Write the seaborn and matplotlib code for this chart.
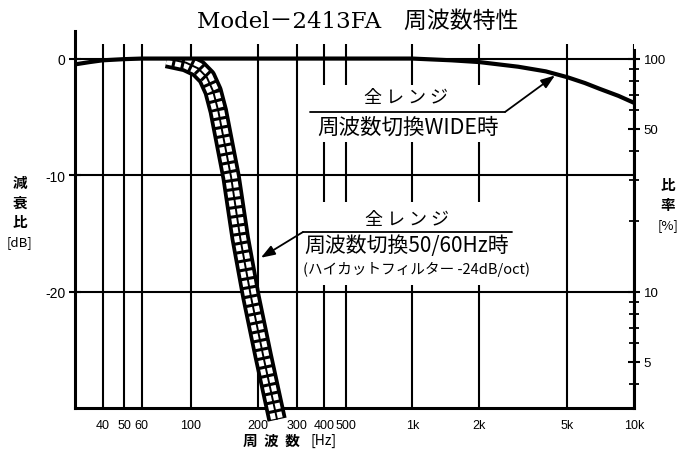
import numpy as np
import matplotlib
matplotlib.use("Agg")
import matplotlib.pyplot as plt
import seaborn as sns
from matplotlib import font_manager
from matplotlib.patches import Rectangle
from matplotlib.lines import Line2D
from matplotlib.ticker import FixedLocator, FixedFormatter, NullFormatter

# ---------------- data ----------------
wide_freq = [30, 35, 40, 50, 60, 1000, 1500, 2000, 3000, 4000, 5000, 6000, 7000, 8500, 10000]
wide_db = [-0.5, -0.3, -0.15, -0.05, 0.0, 0.0, -0.15, -0.3, -0.7, -1.1, -1.6, -2.1, -2.6, -3.2, -3.8]

hc_freq = [78, 95, 108, 118, 126, 133, 141, 152, 167, 187, 212, 245]
hc_db = [0.0, -0.35, -0.85, -1.6, -2.8, -4.5, -7.0, -10.2, -15.4, -20.5, -25.5, -31.0]

x_major = [40, 50, 60, 100, 200, 300, 400, 500, 1000, 2000, 5000, 10000]
x_major_labels = ["40", "50", "60", "100", "200", "300", "400", "500", "1k", "2k", "5k", "10k"]
x_minor = [70, 80, 90, 600, 700, 800, 900, 3000, 4000, 6000, 7000, 8000, 9000]
y_major = [0, -10, -20]
y_major_labels = ["0", "-10", "-20"]
pct_major = [100, 50, 10, 5]
pct_minor = [90, 80, 70, 60, 40, 30, 20, 9, 8, 7, 6, 4]

# ---------------- style ----------------
sns.set_theme(style="white")
plt.rcParams["font.family"] = ["DejaVu Sans", "Noto Sans CJK JP"]
plt.rcParams["text.color"] = "black"
plt.rcParams["axes.edgecolor"] = "black"
plt.rcParams["xtick.color"] = "black"
plt.rcParams["ytick.color"] = "black"
plt.rcParams["lines.scale_dashes"] = False

installed = {f.name for f in font_manager.fontManager.ttflist}
if "Liberation Sans Narrow" in installed:
    tick_font = dict(family="Liberation Sans Narrow", size=10.5)
elif "Liberation Sans" in installed:
    tick_font = dict(family="Liberation Sans", size=9)
else:
    tick_font = dict(family="DejaVu Sans", size=8.5)

W, H = 684, 456
fig = plt.figure(figsize=(W / 100, H / 100), dpi=100)
fig.patch.set_facecolor("white")


def fp(x, y):
    return (x / W, 1 - y / H)


L, R, B, T = 75, 634, 409, 45
ax = fig.add_axes([L / W, 1 - B / H, (R - L) / W, (B - T) / H])
ax.set_facecolor("white")
ax.set_xscale("log")
ax.set_xlim(30, 10000)
ax.set_ylim(-30, 1.25)
ax.set_axisbelow(True)

# curves
sns.lineplot(x=wide_freq, y=wide_db, ax=ax, color="black", lw=3.0, zorder=6)

clip = Rectangle((1, -40), 1e6, 40, transform=ax.transData, visible=False)
ax.add_patch(clip)
n0 = len(ax.lines)
sns.lineplot(x=hc_freq, y=hc_db, ax=ax, color="black", lw=14, zorder=3)
sns.lineplot(x=hc_freq, y=hc_db, ax=ax, color="white", lw=8.6, zorder=4)
sns.lineplot(x=hc_freq, y=hc_db, ax=ax, color="black", lw=1.4, zorder=5)
band = ax.lines[n0:]
band[1].set_linestyle((0, (4.3, 2.2)))
for ln in band:
    ln.set_clip_path(clip)
    ln.set_solid_capstyle("butt")
    ln.set_dash_capstyle("butt")

# axes / ticks
ax.xaxis.set_major_locator(FixedLocator(x_major))
ax.xaxis.set_major_formatter(FixedFormatter(x_major_labels))
ax.xaxis.set_minor_locator(FixedLocator(x_minor))
ax.xaxis.set_minor_formatter(NullFormatter())
ax.yaxis.set_major_locator(FixedLocator(y_major))
ax.yaxis.set_major_formatter(FixedFormatter(y_major_labels))
ax.grid(True, which="major", color="black", lw=1.5)
ax.tick_params(axis="x", which="major", direction="inout", length=8, width=1.5, pad=4)
ax.tick_params(axis="x", which="minor", direction="inout", length=7, width=1.3)
ax.tick_params(axis="y", which="major", direction="inout", length=8, width=1.5, pad=3)
for lab in ax.get_xticklabels() + ax.get_yticklabels():
    lab.set_fontfamily(tick_font["family"])
    lab.set_fontsize(tick_font["size"])
for lab in ax.get_yticklabels():
    lab.set_fontsize(tick_font["size"] + 1)
for s in ["top", "right"]:
    ax.spines[s].set_visible(False)
for s in ["left", "bottom"]:
    ax.spines[s].set_linewidth(2.2)
ax.spines["left"].set_bounds(-30, 2.4)
ax.spines["left"].set_clip_on(False)
ax.set_xlabel("")
ax.set_ylabel("")

ax2 = ax.twinx()
ax2.set_ylim(ax.get_ylim())
ax2.yaxis.set_major_locator(FixedLocator([20 * np.log10(p / 100) for p in pct_major]))
ax2.yaxis.set_major_formatter(FixedFormatter([str(p) for p in pct_major]))
ax2.yaxis.set_minor_locator(FixedLocator([20 * np.log10(p / 100) for p in pct_minor]))
ax2.yaxis.set_minor_formatter(NullFormatter())
ax2.tick_params(axis="y", which="major", direction="inout", length=8, width=1.5, pad=3)
ax2.tick_params(axis="y", which="minor", direction="inout", length=7, width=1.3)
for lab in ax2.get_yticklabels():
    lab.set_fontfamily(tick_font["family"])
    lab.set_fontsize(tick_font["size"] + 0.5)
for s in ["top", "left", "bottom"]:
    ax2.spines[s].set_visible(False)
ax2.spines["right"].set_linewidth(2.2)
ax2.spines["right"].set_bounds(-30, 0.7)
ax2.grid(False)

# ---------------- annotations ----------------
cjk = ["Noto Sans CJK JP", "DejaVu Sans"]
for (x0, y0, x1, y1) in [(303, 86, 512, 143), (300, 203, 530, 286)]:
    ax.add_patch(Rectangle(fp(x0, y1), (x1 - x0) / W, (y1 - y0) / H,
                           transform=fig.transFigure, facecolor="white",
                           edgecolor="none", zorder=1))

fig.text(*fp(358, 22), "Model－2413FA　周波数特性", ha="center", va="center",
         fontsize=16.5, family=["DejaVu Serif", "Noto Sans CJK JP"])

fig.text(*fp(406, 98), "全 レ ン ジ", ha="center", va="center", fontsize=13, family=cjk)
fig.text(*fp(408, 128), "周波数切換WIDE時", ha="center", va="center", fontsize=15.5, family=cjk)
fig.add_artist(Line2D([310 / W, 505 / W], [1 - 113 / H, 1 - 113 / H], color="black", lw=1.3))
ax.annotate("", xy=(4400, -1.45), xycoords="data",
            xytext=fp(505, 113), textcoords="figure fraction",
            arrowprops=dict(arrowstyle="-|>,head_length=0.7,head_width=0.25",
                            color="black", lw=1.3, shrinkA=0, shrinkB=0),
            zorder=7)

fig.text(*fp(407, 220), "全 レ ン ジ", ha="center", va="center", fontsize=13, family=cjk)
fig.text(*fp(407, 246), "周波数切換50/60Hz時", ha="center", va="center", fontsize=15, family=cjk)
fig.text(*fp(303, 269), "(ハイカットフィルター -24dB/oct)", ha="left", va="center",
         fontsize=10.5, family=cjk)
fig.add_artist(Line2D([303 / W, 512 / W], [1 - 233 / H, 1 - 233 / H], color="black", lw=1.3))
ax.annotate("", xy=(207, -17.1), xycoords="data",
            xytext=fp(303, 233), textcoords="figure fraction",
            arrowprops=dict(arrowstyle="-|>,head_length=0.7,head_width=0.25",
                            color="black", lw=1.3, shrinkA=0, shrinkB=0),
            zorder=7)

# axis titles
for ch, yy in [("減", 183), ("衰", 203), ("比", 222)]:
    fig.text(*fp(20, yy), ch, ha="center", va="center", fontsize=10.5,
             fontweight="bold", family=cjk)
fig.text(*fp(20, 243), "[dB]", ha="center", va="center", fontsize=9.5, family=cjk)
for ch, yy in [("比", 185), ("率", 205)]:
    fig.text(*fp(668, yy), ch, ha="center", va="center", fontsize=10.5,
             fontweight="bold", family=cjk)
fig.text(*fp(668, 226), "[%]", ha="center", va="center", fontsize=9.5, family=cjk)
fig.text(*fp(271, 441), "周  波  数", ha="center", va="center", fontsize=10.5,
         fontweight="bold", family=cjk)
fig.text(*fp(311, 441), "[Hz]", ha="left", va="center", fontsize=10, family=cjk)

fig.savefig("out.png", dpi=100, facecolor="white")
